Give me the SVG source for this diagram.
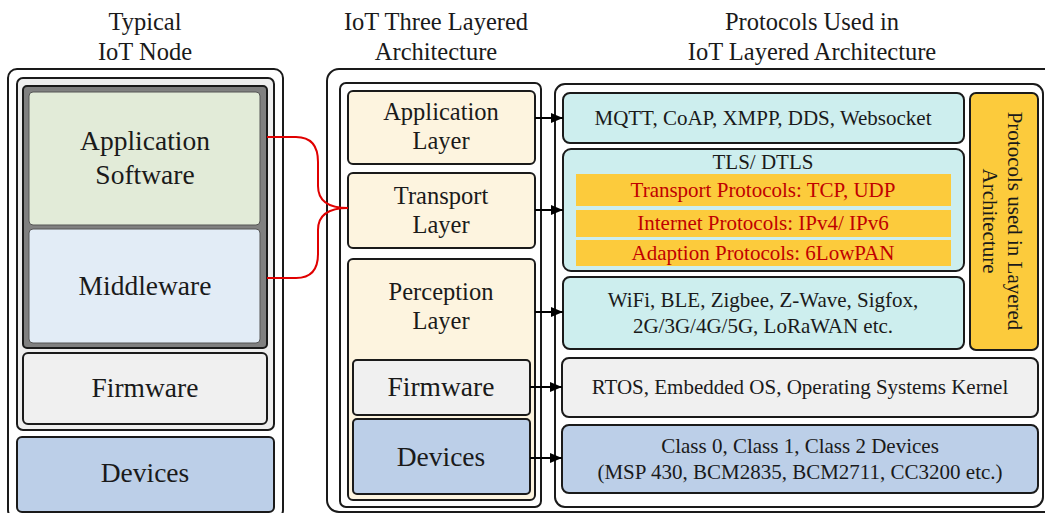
<svg xmlns="http://www.w3.org/2000/svg" width="1045" height="513" viewBox="0 0 1045 513">
<defs>
<style>
text{font-family:"Liberation Serif","Times New Roman",serif;fill:#1a1a1a;text-anchor:middle}
.t{font-size:24.5px}
.big{font-size:27.5px}
.lay{font-size:24.5px}
.p{font-size:21px}
.red{font-size:21px;fill:#c00000}
.box{stroke:#1a1a1a;stroke-width:2}
.frame{fill:#fff;stroke:#1a1a1a;stroke-width:2}
.conn{fill:none;stroke:#000;stroke-width:2}
.red-conn{fill:none;stroke:#e00000;stroke-width:2}
</style>
<marker id="ah" viewBox="0 0 12 10" refX="12" refY="5" markerWidth="12" markerHeight="10" orient="auto" markerUnits="userSpaceOnUse">
<path d="M0,0 L12,5 L0,10 z" fill="#000"/>
</marker>
</defs>
<rect width="1045" height="513" fill="#fff"/>

<g id="titles">
<text class="t" x="145" y="30">Typical</text>
<text class="t" x="145" y="60">IoT Node</text>
<text class="t" x="436" y="30">IoT Three Layered</text>
<text class="t" x="436" y="60">Architecture</text>
<text class="t" x="812" y="30">Protocols Used in</text>
<text class="t" x="812" y="60">IoT Layered Architecture</text>
</g>

<g id="frames">
<rect class="frame" x="8" y="69" width="275" height="450" rx="9"/>
<rect class="frame" x="327" y="69" width="730" height="443" rx="12"/>
<rect class="frame" x="340" y="83" width="201" height="424" rx="6"/>
<rect class="frame" x="555" y="84" width="488" height="423" rx="10"/>
</g>

<g id="typical-node">
<rect class="box" x="17" y="78" width="257" height="352" rx="6" fill="#eeeeee"/>
<rect class="box" x="23" y="86" width="244" height="262" rx="4" fill="#808080"/>
</g>
<g id="app-software">
<rect x="29" y="92" width="231" height="133" rx="4" fill="#e2ebd8" stroke="#555" stroke-width="1"/>
<text class="big" x="145" y="150">Application</text>
<text class="big" x="145" y="184">Software</text>
</g>
<g id="middleware">
<rect x="29" y="229" width="231" height="114" rx="4" fill="#e2ecf6" stroke="#555" stroke-width="1"/>
<text class="big" x="145" y="295">Middleware</text>
</g>
<g id="firmware-left">
<rect class="box" x="23" y="353" width="244" height="71" rx="5" fill="#f0f0f0"/>
<text class="big" x="145" y="397">Firmware</text>
</g>
<g id="devices-left">
<rect class="box" x="17" y="437" width="257" height="75" rx="5" fill="#bccfe8"/>
<text class="big" x="145" y="482">Devices</text>
</g>

<g id="application-layer">
<rect class="box" x="348" y="91" width="187" height="73" rx="5" fill="#fdf4df"/>
<text class="lay" x="441" y="120">Application</text>
<text class="lay" x="441" y="149">Layer</text>
</g>
<g id="transport-layer">
<rect class="box" x="348" y="173" width="187" height="75" rx="5" fill="#fdf4df"/>
<text class="lay" x="441" y="204">Transport</text>
<text class="lay" x="441" y="233">Layer</text>
</g>
<g id="perception-layer">
<rect class="box" x="348" y="259" width="187" height="241" rx="5" fill="#fdf4df"/>
<text class="lay" x="441" y="300">Perception</text>
<text class="lay" x="441" y="329">Layer</text>
</g>
<g id="firmware-mid">
<rect class="box" x="353" y="360" width="177" height="55" rx="4" fill="#f0f0f0"/>
<text class="big" x="441" y="396">Firmware</text>
</g>
<g id="devices-mid">
<rect class="box" x="353" y="419" width="177" height="75" rx="4" fill="#bccfe8"/>
<text class="big" x="441" y="466">Devices</text>
</g>

<g id="app-protocols">
<rect class="box" x="563" y="93" width="401" height="50" rx="7" fill="#cdeeee"/>
<text class="p" x="763" y="125">MQTT, CoAP, XMPP, DDS, Websocket</text>
</g>
<g id="transport-protocols">
<rect class="box" x="563" y="149" width="401" height="122" rx="8" fill="#cdeeee"/>
<text class="p" x="763" y="169">TLS/ DTLS</text>
<rect x="576" y="174" width="375" height="32" fill="#fccb3c"/>
<text class="red" x="763" y="197">Transport Protocols: TCP, UDP</text>
<rect x="576" y="210" width="375" height="27" fill="#fccb3c"/>
<text class="red" x="763" y="230">Internet Protocols: IPv4/ IPv6</text>
<rect x="576" y="240" width="375" height="26" fill="#fccb3c"/>
<text class="red" x="763" y="260">Adaption Protocols: 6LowPAN</text>
</g>
<g id="perception-protocols">
<rect class="box" x="563" y="277" width="401" height="72" rx="7" fill="#cdeeee"/>
<text class="p" x="763" y="307">WiFi, BLE, Zigbee, Z-Wave, Sigfox,</text>
<text class="p" x="763" y="333">2G/3G/4G/5G, LoRaWAN etc.</text>
</g>
<g id="layered-label">
<rect class="box" x="970" y="93" width="68" height="257" rx="6" fill="#fccb3c"/>
<text class="p" transform="translate(1008,221) rotate(90)">Protocols used in Layered</text>
<text class="p" transform="translate(983,221) rotate(90)">Architecture</text>
</g>
<g id="os-protocols">
<rect class="box" x="562" y="358" width="476" height="59" rx="7" fill="#f0f0f0"/>
<text class="p" x="800" y="394">RTOS, Embedded OS, Operating Systems Kernel</text>
</g>
<g id="device-classes">
<rect class="box" x="562" y="425" width="476" height="68" rx="7" fill="#bccfe8"/>
<text class="p" x="800" y="453">Class 0, Class 1, Class 2 Devices</text>
<text class="p" x="800" y="479">(MSP 430, BCM2835, BCM2711, CC3200 etc.)</text>
</g>

<g id="connectors">
<path class="red-conn" d="M267,137 H296 Q318,137 318,162 V186 Q318,208 348,208"/>
<path class="red-conn" d="M267,278 H296 Q318,278 318,254 V230 Q318,208 348,208"/>
<path class="conn" d="M535,118 H563" marker-end="url(#ah)"/>
<path class="conn" d="M535,210 H563" marker-end="url(#ah)"/>
<path class="conn" d="M535,312 H563" marker-end="url(#ah)"/>
<path class="conn" d="M530,387 H562" marker-end="url(#ah)"/>
<path class="conn" d="M530,458 H562" marker-end="url(#ah)"/>
</g>
</svg>
